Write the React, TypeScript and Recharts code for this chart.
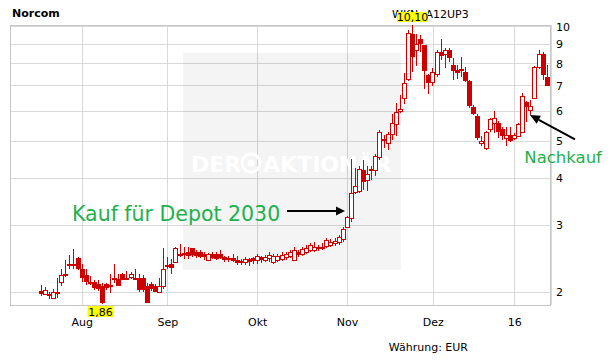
import React from 'react';
import { ComposedChart, Bar, XAxis, YAxis, CartesianGrid, ReferenceArea } from 'recharts';

// Daily candles, Norcom (mid July 2015 - mid January 2016), EUR
const opens = [
  2.02, 1.98, 1.98, 1.93, 2.01, 2.13, 2.23, 2.38, 2.37, 2.47,
  2.31, 2.22, 2.13, 2.13, 2.10, 2.08, 2.10, 2.09, 2.18, 2.17,
  2.24, 2.18, 2.19, 2.18, 2.18, 2.18, 2.08, 2.10, 2.08, 2.01,
  2.08, 2.36, 2.38, 2.41, 2.53, 2.54, 2.56, 2.61, 2.55, 2.56,
  2.53, 2.44, 2.53, 2.53, 2.53, 2.48, 2.46, 2.46, 2.43, 2.42,
  2.41, 2.45, 2.46, 2.43, 2.48, 2.44, 2.46, 2.41, 2.44, 2.45,
  2.48, 2.50, 2.44, 2.56, 2.53, 2.55, 2.58, 2.59, 2.61, 2.61,
  2.65, 2.67, 2.69, 2.71, 2.77, 2.97, 3.14, 3.67, 3.69, 4.21,
  3.96, 4.22, 4.20, 4.55, 5.06, 4.95, 5.22, 5.55, 6.00, 6.49,
  7.28, 9.60, 8.70, 9.30, 8.95, 7.48, 7.15, 7.50, 8.61, 8.47,
  8.70, 7.94, 7.70, 7.75, 7.60, 7.20, 6.15, 5.84, 4.95, 4.80,
  5.37, 5.60, 5.60, 5.40, 5.10, 5.20, 5.10, 5.15, 5.28, 6.34,
  6.06, 6.49, 7.86, 8.50, 7.37,
];
const highs = [
  2.09, 2.06, 2.01, 2.04, 2.18, 2.30, 2.44, 2.51, 2.60, 2.48,
  2.38, 2.30, 2.21, 2.15, 2.16, 2.12, 2.12, 2.24, 2.37, 2.24,
  2.25, 2.27, 2.26, 2.31, 2.24, 2.22, 2.12, 2.13, 2.10, 2.18,
  2.62, 2.48, 2.45, 2.63, 2.68, 2.63, 2.63, 2.62, 2.59, 2.58,
  2.55, 2.54, 2.55, 2.56, 2.58, 2.50, 2.50, 2.52, 2.50, 2.45,
  2.48, 2.46, 2.48, 2.53, 2.50, 2.51, 2.56, 2.53, 2.53, 2.55,
  2.56, 2.58, 2.63, 2.58, 2.63, 2.66, 2.70, 2.72, 2.67, 2.70,
  2.78, 2.76, 2.78, 2.84, 2.98, 3.18, 4.48, 4.25, 4.30, 4.45,
  4.30, 4.30, 4.62, 5.35, 5.20, 5.30, 5.90, 6.30, 6.60, 7.55,
  9.80, 10.10, 9.60, 9.50, 8.95, 7.50, 7.80, 8.70, 9.30, 8.80,
  8.80, 8.30, 7.95, 8.35, 7.85, 7.25, 6.22, 5.90, 5.15, 5.32,
  5.75, 6.00, 5.65, 5.45, 5.45, 5.45, 5.25, 5.58, 6.70, 6.38,
  6.42, 7.90, 8.70, 8.60, 7.94,
];
const lows = [
  1.95, 1.97, 1.92, 1.92, 1.93, 2.08, 2.19, 2.31, 2.31, 2.29,
  2.13, 2.09, 2.09, 2.03, 2.02, 1.86, 2.03, 1.99, 2.12, 2.08,
  2.15, 2.15, 2.17, 2.15, 2.01, 2.01, 1.87, 2.02, 2.00, 2.00,
  2.04, 2.30, 2.24, 2.39, 2.48, 2.45, 2.45, 2.48, 2.47, 2.46,
  2.44, 2.42, 2.45, 2.43, 2.45, 2.41, 2.41, 2.40, 2.36, 2.36,
  2.36, 2.34, 2.38, 2.37, 2.39, 2.40, 2.41, 2.38, 2.41, 2.42,
  2.44, 2.46, 2.42, 2.48, 2.50, 2.52, 2.55, 2.56, 2.57, 2.58,
  2.62, 2.63, 2.65, 2.66, 2.72, 2.95, 3.07, 3.62, 3.65, 3.72,
  3.70, 3.95, 4.05, 4.45, 4.80, 4.75, 5.05, 5.15, 5.95, 6.25,
  7.20, 7.62, 7.90, 8.60, 6.85, 6.65, 7.00, 7.40, 8.20, 7.80,
  8.10, 7.27, 7.30, 7.40, 7.15, 6.10, 5.85, 5.05, 4.87, 4.75,
  5.30, 5.25, 5.10, 5.05, 4.85, 4.98, 5.05, 5.12, 5.25, 5.63,
  5.87, 6.45, 7.75, 7.25, 6.97,
];
const closes = [
  1.98, 2.03, 1.96, 2.00, 2.00, 2.22, 2.21, 2.36, 2.36, 2.31,
  2.18, 2.13, 2.11, 2.05, 2.04, 1.87, 2.05, 2.07, 2.16, 2.08,
  2.16, 2.16, 2.23, 2.16, 2.03, 2.03, 1.88, 2.04, 2.01, 2.08,
  2.31, 2.34, 2.32, 2.61, 2.51, 2.51, 2.50, 2.51, 2.50, 2.48,
  2.48, 2.52, 2.47, 2.45, 2.47, 2.43, 2.43, 2.42, 2.39, 2.39,
  2.45, 2.41, 2.42, 2.49, 2.43, 2.48, 2.51, 2.50, 2.50, 2.51,
  2.53, 2.55, 2.58, 2.51, 2.60, 2.61, 2.66, 2.63, 2.64, 2.64,
  2.75, 2.72, 2.73, 2.79, 2.94, 3.15, 3.66, 3.81, 4.22, 3.91,
  4.10, 4.17, 4.58, 5.28, 5.00, 5.22, 5.60, 5.96, 6.07, 7.11,
  9.63, 8.35, 9.02, 9.00, 7.67, 7.11, 7.60, 8.61, 8.40, 8.70,
  8.30, 7.65, 7.55, 7.65, 7.20, 6.20, 5.90, 5.09, 5.00, 5.30,
  5.71, 5.75, 5.30, 5.15, 5.20, 5.02, 5.20, 5.55, 6.58, 6.15,
  6.20, 7.86, 8.50, 7.48, 7.00,
];

// x axis: trading-day index; month starts
const monthTickIdx = [10, 31, 53, 75, 96, 116];
const monthLabels = ['Aug', 'Sep', 'Okt', 'Nov', 'Dez', '16'];
const priceTicks = [2, 3, 4, 5, 6, 7, 8, 9, 10];

const X_DOMAIN: [number, number] = [-7.72, 124.88];
const Y_DOMAIN: [number, number] = [1.852, 10.12];

const RED = '#cc0000';
const GREEN = '#22b14c';
const FONT = '"DejaVu Sans", Verdana, sans-serif';

const candles = opens.map((o, i) => ({
  i,
  o,
  h: highs[i],
  l: lows[i],
  c: closes[i],
  range: [lows[i], highs[i]],
}));

const maxHigh = Math.max(...highs);
const minLow = Math.min(...lows);
const fmt = (v: number) => v.toFixed(2).replace('.', ',');

const Candle = (props: any) => {
  const { x, y, width, height, payload } = props;
  if (!payload || x == null) return null;
  const { o, h, l, c } = payload;
  const cx = Math.round(x + width / 2 - 0.5) + 0.5;
  const lh = Math.log(h);
  const ll = Math.log(l);
  const span = lh - ll || 1;
  const py = (v: number) => y + (height * (lh - Math.log(v))) / span;
  const yTop = py(Math.max(o, c));
  const yBot = py(Math.min(o, c));
  const up = c >= o;
  const elems: React.ReactNode[] = [];
  elems.push(
    <line key="w" x1={cx} x2={cx} y1={Math.round(y)} y2={Math.round(y + height)} stroke={RED} strokeWidth={1} shapeRendering="crispEdges" />
  );
  if (up) {
    const t = Math.round(yTop) + 0.5;
    const b = Math.max(Math.round(yBot) + 0.5, t + 1);
    elems.push(
      <rect key="b" x={cx - 2} y={t} width={4} height={b - t} fill="#ffffff" stroke={RED} strokeWidth={1} shapeRendering="crispEdges" />
    );
  } else {
    const t = Math.round(yTop);
    const b = Math.max(Math.round(yBot), t + 2);
    elems.push(
      <rect key="b" x={cx - 2.5} y={t} width={5} height={b - t} fill={RED} shapeRendering="crispEdges" />
    );
  }
  if (h === maxHigh) {
    const yh = Math.round(y);
    elems.push(
      <g key="hi">
        <rect x={cx - 15.5} y={yh - 13} width={31} height={10} fill="#ffff00" />
        <text x={cx} y={yh - 4.5} textAnchor="middle" fontFamily={FONT} fontSize={11} fill="#000">{fmt(h)}</text>
      </g>
    );
  }
  if (l === minLow) {
    const yl = Math.round(y + height);
    elems.push(
      <g key="lo">
        <rect x={cx - 15} y={yl + 2} width={26} height={11} fill="#ffff00" />
        <text x={cx - 2} y={yl + 11.5} textAnchor="middle" fontFamily={FONT} fontSize={11} fill="#000">{fmt(l)}</text>
      </g>
    );
  }
  return <g>{elems}</g>;
};

const Watermark = (props: any) => {
  const { x, y, width, height } = props;
  return (
    <g>
      <rect x={x} y={y} width={width} height={height} fill="#000" fillOpacity={0.042} />
      <text x={x + 8} y={y + 119} fill="#ffffff" fontFamily={FONT} fontWeight="bold" fontSize={22}>DER</text>
      <circle cx={x + 68} cy={y + 110} r={9} fill="none" stroke="#ffffff" strokeWidth={3} />
      <circle cx={x + 68} cy={y + 110} r={3.5} fill="#ffffff" />
      <text x={x + 80} y={y + 119} fill="#ffffff" fontFamily={FONT} fontWeight="bold" fontSize={22}>AKTIONÄR</text>
    </g>
  );
};

const Border = (props: any) => {
  const { x, y, width, height } = props;
  return (
    <rect x={Math.round(x) + 0.5} y={Math.round(y) + 0.5} width={Math.round(width) - 1} height={Math.round(height)} fill="none" stroke="#c6c6c6" strokeWidth={1} shapeRendering="crispEdges" />
  );
};

export default function App() {
  return (
    <div style={{ position: 'absolute', left: 0, top: 0, width: 611, height: 364, background: '#ffffff', overflow: 'hidden' }}>
      <svg width={611} height={364} style={{ position: 'absolute', left: 0, top: 0 }}>
        <text x={392} y={18} fontFamily={FONT} fontSize={11} fill="#000">WKN: A12UP3</text>
      </svg>
      <div style={{ position: 'absolute', left: 0, top: 0 }}>
        <ComposedChart width={611} height={364} data={candles} margin={{ top: 25, right: 20, bottom: 29, left: 10 }}>
          <ReferenceArea x1={34.7} x2={88.1} y1={2.29} y2={8.54} shape={<Watermark />} ifOverflow="visible" />
          <CartesianGrid stroke="#d9d9d9" strokeWidth={1} shapeRendering="crispEdges" />
          <ReferenceArea x1={X_DOMAIN[0]} x2={X_DOMAIN[1]} y1={Y_DOMAIN[0]} y2={Y_DOMAIN[1]} shape={<Border />} ifOverflow="visible" />
          <XAxis
            type="number"
            dataKey="i"
            domain={X_DOMAIN}
            ticks={monthTickIdx}
            interval={0}
            tickFormatter={(v: number) => monthLabels[monthTickIdx.indexOf(v)] ?? ''}
            axisLine={false}
            tickLine={false}
            tickSize={6}
            tickMargin={7}
            height={30}
            tick={{ fontFamily: FONT, fontSize: 11, fill: '#000' }}
          />
          <YAxis
            orientation="right"
            type="number"
            scale="log"
            domain={Y_DOMAIN}
            ticks={priceTicks}
            interval={0}
            axisLine={false}
            tickLine={false}
            tickSize={3}
            tickMargin={2}
            width={40}
            tick={{ fontFamily: FONT, fontSize: 11, fill: '#000' }}
          />
          <Bar dataKey="range" barSize={5} shape={(p: any) => <Candle {...p} />} isAnimationActive={false} />
        </ComposedChart>
      </div>
      <svg width={611} height={364} style={{ position: 'absolute', left: 0, top: 0, pointerEvents: 'none' }}>
        <text x={12} y={17} fontFamily={FONT} fontWeight="bold" fontSize={11} fill="#000">Norcom</text>
        <text x={468} y={351} textAnchor="end" fontFamily={FONT} fontSize={11} fill="#000">Währung: EUR</text>
        <text x={72} y={220.7} fontFamily={FONT} fontSize={20.5} fill={GREEN}>Kauf für Depot 2030</text>
        <line x1={287} y1={211} x2={337} y2={211} stroke="#000" strokeWidth={2} />
        <polygon points="345,211 336,206.5 336,215.5" fill="#000" />
        <text x={524.3} y={162.7} fontFamily={FONT} fontSize={16.5} fill={GREEN}>Nachkauf</text>
        <line x1={575} y1={139.3} x2={538.8} y2={119.8} stroke="#000" strokeWidth={2} />
        <polygon points="530,115 540.9,115.8 536.7,123.7" fill="#000" />
      </svg>
    </div>
  );
}
